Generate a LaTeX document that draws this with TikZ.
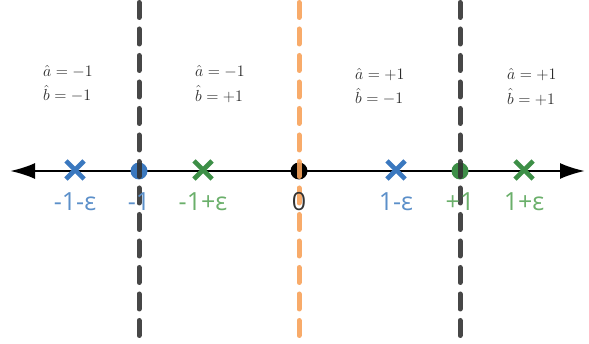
\RequirePackage{fix-cm}
\documentclass[tikz,border=0pt]{standalone}
\usepackage{amsmath,amssymb}
\usepackage{fontspec}
\usepackage{xcolor}
\usepackage{tikz}
\usetikzlibrary{arrows.meta,shapes.misc,positioning}
\newfontfamily\eplabelfont{Open Sans}
\definecolor{epBlue}{HTML}{3A78BF}
\definecolor{epBlueText}{HTML}{5B8FC9}
\definecolor{epGreen}{HTML}{3D8F47}
\definecolor{epGreenText}{HTML}{6AAF6A}
\definecolor{epOrange}{HTML}{F7A25A}
\definecolor{epDark}{HTML}{333333}
\definecolor{epInk}{HTML}{2A2A2A}
\tikzset{
  ep diagram/.style={x=1pt,y=-1pt, line join=round},
  ep axis/.style={{Latex[length=25pt,width=16pt]}-{Latex[length=25pt,width=16pt]},
    draw=black, line width=2.4pt},
  ep cut/.style={line width=5pt, line cap=round, dash pattern=on 15pt off 11.5pt,
    opacity=0.9},
  ep cross/.style={cross out, draw=#1, line width=4.6pt, minimum size=13.5pt,
    inner sep=0pt},
  ep dot/.style={circle, fill=#1, minimum size=17pt, inner sep=0pt},
  ep tick label/.style={font=\eplabelfont\fontsize{25}{28}\selectfont,
    text=#1, anchor=base},
  ep region/.style={font=\fontsize{16}{22}\selectfont, text=epInk,
    anchor=west, inner sep=0pt}
}
\begin{document}
\begin{tikzpicture}[ep diagram]
\useasboundingbox (0,0) rectangle (589,344);
% number line
\coordinate (lft) at (10,171);
\coordinate (rgt) at (585,171);
\draw[ep axis] (lft) -- (rgt);
% points on the line
\node[ep cross=epBlue] (mEps) at (75,170) {};
\node[ep dot=epBlue] (mOne) at (139,171) {};
\node[ep cross=epGreen] (mOneEps) at (203,170) {};
\node[ep dot=black] (zero) at (299,171) {};
\node[ep cross=epBlue] (pOneEps) at (396,170) {};
\node[ep dot=epGreen] (pOne) at (460,171) {};
\node[ep cross=epGreen] (pEps) at (524,170) {};
% decision boundaries
\foreach \x/\col in {139/epDark,299/epOrange,460/epDark}
  \draw[ep cut, draw=\col] (\x,2.5) -- (\x,344);
% tick labels
\foreach \n/\txt/\col in {mEps/{-1-ε}/epBlueText, mOne/{-1}/epBlueText,
    mOneEps/{-1+ε}/epGreenText, zero/{0}/epDark, pOneEps/{1-ε}/epBlueText,
    pOne/{+1}/epGreenText, pEps/{1+ε}/epGreenText}
  \node[ep tick label=\col] (\n-lbl) at ([yshift=-40pt]\n.center |- 0,171) {\txt};
% regions
\foreach \i/\x/\y/\sa/\sb in {1/43/72/-/-, 2/195/72/-/+, 3/355/75/+/-, 4/507/75/+/+}{
  \node[ep region] (a\i) at (\x,\y) {$\hat a = \sa 1$};
  \node[ep region] (b\i) at (\x,\y+22) {$\hat b = \sb 1$};
}
\end{tikzpicture}
\end{document}
